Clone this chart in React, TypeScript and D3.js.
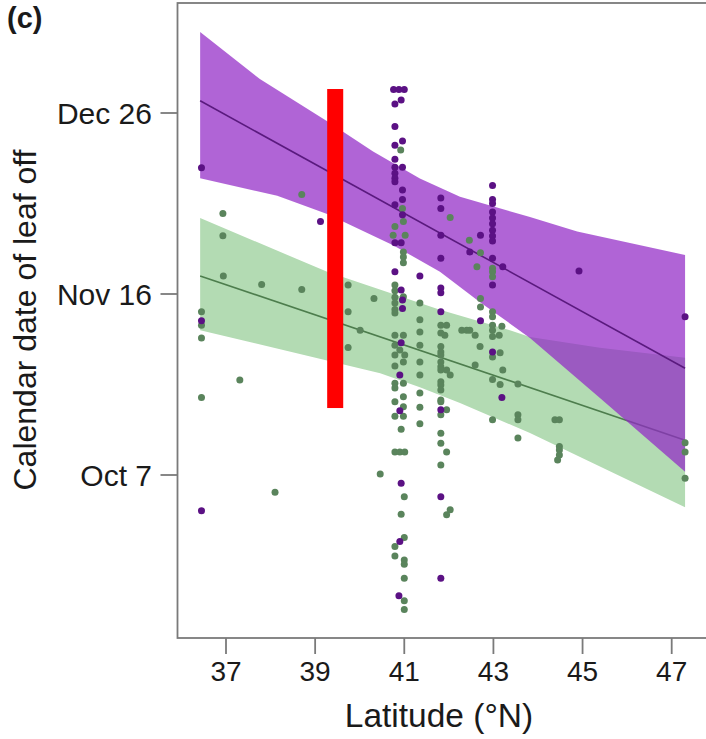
import React from "react";
import * as d3 from "d3";

// ---- data ----
const xTicks = [37, 39, 41, 43, 45, 47];
const yTickValues = [280, 320, 360];
const yTickLabels = ["Oct 7", "Nov 16", "Dec 26"];

// fitted lines [lat, doy]
const purpleFit: [number, number][] = [[36.42, 362.7], [47.3, 303.6]];
const greenFit: [number, number][] = [[36.42, 324.0], [47.3, 287.7]];

// confidence bands
const purpleUpper: [number, number][] = [[36.42, 377.9], [37.76, 367.5], [39.27, 358.2], [40.3, 351.5], [41.35, 345.5], [42.25, 341.5], [43.82, 337.0], [44.88, 333.8], [47.3, 328.6]];
const purpleLower: [number, number][] = [[36.42, 345.6], [38.15, 341.7], [39.27, 337.7], [40.75, 330.8], [41.8, 324.9], [42.7, 318.2], [43.82, 310.3], [45.39, 297.0], [47.3, 280.7]];
const greenUpper: [number, number][] = [[36.42, 336.8], [39.27, 324.9], [41.8, 316.5], [43.37, 312.0], [43.82, 310.5], [45.39, 308.1], [47.3, 305.9]];
const greenLower: [number, number][] = [[36.42, 312.0], [40.46, 302.5], [41.35, 299.4], [42.25, 295.9], [43.82, 289.3], [47.3, 272.9]];

const purplePoints: [number, number][] = [
  [36.45, 347.9], [36.45, 314.1], [36.45, 272.1], [39.12, 336.0],
  [40.76, 365.2], [40.88, 365.2], [41.0, 365.2], [40.79, 362.0], [40.93, 362.9],
  [40.79, 357.0], [40.79, 352.9], [40.96, 353.8], [40.79, 349.8], [40.79, 348.0], [40.96, 348.0],
  [40.79, 346.7], [40.79, 345.6], [40.79, 344.8], [40.96, 343.0], [40.96, 340.9], [40.79, 339.7],
  [40.96, 337.5], [40.79, 331.3], [40.93, 331.3], [40.79, 324.9], [41.35, 324.0],
  [40.93, 320.9], [40.96, 318.7], [40.96, 316.8],
  [40.93, 309.2], [40.9, 302.1], [40.9, 294.2], [40.93, 278.2], [40.9, 265.3], [40.88, 253.3],
  [41.82, 341.2], [41.82, 338.9], [41.82, 333.0], [41.82, 327.9], [41.82, 321.3], [41.82, 320.3],
  [41.82, 316.1], [41.82, 294.4], [41.82, 275.2], [41.82, 257.2],
  [42.47, 329.3], [42.71, 333.0], [42.71, 314.1],
  [42.98, 344.0], [42.98, 340.9], [42.98, 340.0], [42.98, 338.1], [42.98, 336.8], [42.98, 335.5],
  [42.98, 334.1], [42.98, 332.8], [42.98, 331.7], [42.98, 327.9], [42.98, 322.0], [42.98, 307.2],
  [43.21, 326.0], [43.19, 297.1], [44.92, 325.1], [47.3, 315.0],
];

const greenPoints: [number, number][] = [
  [36.45, 316.1], [36.45, 313.1], [36.45, 310.3], [36.45, 297.1],
  [36.93, 337.8], [36.93, 332.9], [36.94, 324.0], [37.8, 322.1], [38.7, 321.0], [38.7, 342.0],
  [37.31, 301.0], [38.1, 276.2], [39.74, 322.0], [39.74, 316.1], [40.32, 319.0], [40.01, 312.0],
  [39.74, 308.2], [40.46, 280.2],
  [40.92, 351.8], [40.96, 338.9], [40.79, 334.9], [40.75, 333.0], [40.98, 336.0], [41.02, 333.0],
  [40.98, 329.3], [40.98, 328.2], [40.98, 326.9],
  [40.79, 322.0], [40.79, 320.7], [40.79, 319.3], [40.79, 318.0], [40.79, 316.6], [40.79, 315.8], [40.98, 319.4],
  [40.79, 310.9], [40.98, 310.9], [40.79, 308.7], [40.9, 307.6], [41.01, 306.5], [40.79, 306.5],
  [40.79, 304.1], [40.98, 305.0], [40.79, 300.3], [40.79, 299.2], [40.98, 300.3], [40.79, 296.2],
  [40.98, 297.3], [40.98, 295.1], [40.79, 293.0], [40.98, 293.0], [40.93, 290.1],
  [40.79, 285.1], [40.9, 285.1], [41.01, 285.1], [41.0, 275.2], [40.93, 271.3], [41.0, 266.2],
  [40.79, 264.2], [40.79, 262.1], [41.0, 261.2], [41.0, 260.3], [41.0, 257.2], [41.0, 252.2], [41.0, 250.3],
  [41.35, 318.0], [41.35, 314.3], [41.35, 311.6], [41.35, 308.7], [41.35, 305.0], [41.35, 302.1],
  [41.35, 298.1], [41.35, 295.0], [41.35, 291.3],
  [41.82, 313.1], [41.82, 311.4], [41.82, 308.4], [41.82, 307.2], [41.82, 306.5], [41.82, 305.0],
  [41.82, 303.9], [41.82, 303.2], [41.82, 300.6], [41.82, 299.9], [41.82, 298.8], [41.82, 296.6],
  [41.82, 296.2], [41.82, 293.3], [41.82, 289.2], [41.82, 287.0], [41.82, 282.2],
  [41.95, 313.1], [41.91, 310.9], [41.95, 303.2], [42.03, 302.1], [41.95, 294.4], [41.95, 285.1],
  [42.03, 272.3], [41.95, 271.2], [42.03, 336.9],
  [42.29, 312.0], [42.4, 312.0], [42.47, 312.0], [42.59, 310.9], [42.46, 331.9], [42.71, 329.1],
  [42.63, 326.0], [42.71, 319.0], [42.71, 317.1], [42.7, 308.4], [42.59, 304.3],
  [42.98, 325.7], [42.98, 324.9], [42.98, 323.8], [42.98, 316.1], [42.98, 315.0], [42.98, 313.1],
  [42.98, 312.0], [42.98, 310.6], [42.98, 306.1], [42.98, 301.1], [42.98, 292.2],
  [43.19, 312.9], [43.13, 310.9], [43.15, 307.0], [43.21, 303.2], [43.15, 300.0],
  [43.55, 300.1], [43.55, 293.3], [43.55, 292.2], [43.55, 288.2],
  [44.38, 292.2], [44.48, 292.2], [44.48, 286.3], [44.48, 285.5], [44.48, 284.4], [44.44, 283.3],
  [47.3, 287.1], [47.3, 285.1], [47.3, 279.3],
];

// annotation bar [lat0, lat1, doy0, doy1]
const redBar = [39.27, 39.63, 294.8, 365.3];

// ---- layout ----
const W = 706, H = 739;
const plotLeft = 177.5, plotTop = 3, plotBottom = 638, plotRight = 712;
const font = "'Liberation Sans', Arial, Helvetica, sans-serif";

export default function App() {
  const x = d3.scaleLinear().domain([37, 47]).range([226, 671.7]);
  const y = d3.scaleLinear().domain([280, 360]).range([475, 113]);
  const line = d3.line<[number, number]>().x(d => x(d[0])).y(d => y(d[1]));
  const band = (up: [number, number][], lo: [number, number][]) =>
    line([...up, ...lo.slice().reverse()]) + "Z";

  const frameColor = "#7a7a7a";
  const textColor = "#1a1a1a";
  return (
    <svg width={W} height={H} style={{ position: "absolute", left: 0, top: 0, background: "#fff" }}>
      <rect x={0} y={0} width={W} height={H} fill="#fff" />
      <text x={7} y={28} fontFamily={font} fontWeight="bold" fontSize={29} fill={textColor}>(c)</text>

      {/* bands and fits */}
      <path d={band(greenUpper, greenLower)} fill="#b3dbb3" />
      <path d={line(greenFit) as string} stroke="#4d7d4d" strokeWidth={1.6} fill="none" />
      <path d={band(purpleUpper, purpleLower)} fill="rgb(145,40,198)" fillOpacity={0.72} />
      <path d={line(purpleFit) as string} stroke="#5a1a7e" strokeWidth={1.6} fill="none" />

      {/* points */}
      {greenPoints.map((d, i) => (
        <circle key={"g" + i} cx={x(d[0])} cy={y(d[1])} r={3.5} fill="#5a845c" />
      ))}
      {purplePoints.map((d, i) => (
        <circle key={"p" + i} cx={x(d[0])} cy={y(d[1])} r={3.5} fill="#5b1184" />
      ))}

      {/* annotation */}
      <rect x={x(redBar[0])} y={y(redBar[3])} width={x(redBar[1]) - x(redBar[0])}
        height={y(redBar[2]) - y(redBar[3])} fill="#ff0000" />

      {/* frame */}
      <rect x={plotLeft} y={plotTop} width={plotRight - plotLeft} height={plotBottom - plotTop}
        fill="none" stroke={frameColor} strokeWidth={1.8} />

      {/* x axis */}
      {xTicks.map(t => (
        <g key={"x" + t}>
          <line x1={x(t)} x2={x(t)} y1={plotBottom} y2={plotBottom + 16} stroke={frameColor} strokeWidth={1.8} />
          <text x={x(t)} y={681} textAnchor="middle" fontFamily={font} fontSize={28} fill={textColor}>{t}</text>
        </g>
      ))}
      <text x={439} y={727} textAnchor="middle" fontFamily={font} fontSize={33.5} fill={textColor}>Latitude (°N)</text>

      {/* y axis */}
      {yTickValues.map((t, i) => (
        <g key={"y" + t}>
          <line x1={plotLeft - 17} x2={plotLeft} y1={y(t)} y2={y(t)} stroke={frameColor} strokeWidth={1.8} />
          <text x={152} y={y(t) + 10.5} textAnchor="end" fontFamily={font} fontSize={30} fill={textColor}>{yTickLabels[i]}</text>
        </g>
      ))}
      <text transform={`translate(36,${320}) rotate(-90)`} textAnchor="middle" fontFamily={font} fontSize={32} fill={textColor}>
        Calendar date of leaf off
      </text>
    </svg>
  );
}
